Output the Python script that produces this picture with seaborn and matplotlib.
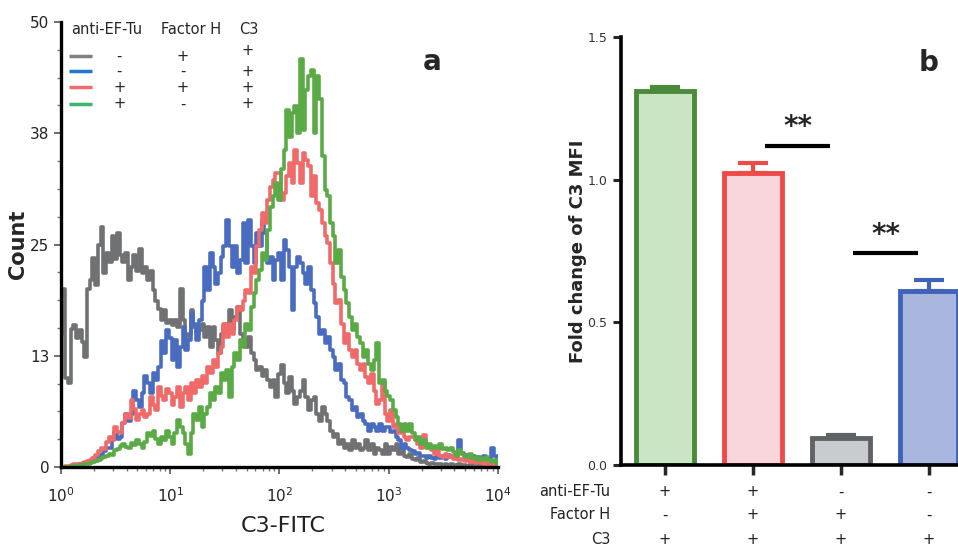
import numpy as np
import pandas as pd
import matplotlib
matplotlib.use("Agg")
import matplotlib.pyplot as plt
import seaborn as sns
from matplotlib.ticker import FixedLocator, LogLocator, NullFormatter

# --- panel a: C3-FITC histograms, counts read every 0.025 decade from 10^0 to 10^4 ---
log_fitc = np.round(np.arange(0, 4.0001, 0.025), 3)

gray_counts = [
    15, 20, 10, 9.5, 15.5, 16, 14.5, 15.4, 14, 12.4, 20, 21, 23.5, 20.5, 25, 27, 21.8, 24, 23, 26,
    23.4, 26.3, 23.8, 23, 24, 21, 22.5, 23.8, 22, 24.5, 21.8, 22.5, 21, 22, 19.9, 18.7, 17.8, 16.5, 17.6, 16.2,
    16.5, 16, 16.5, 15.7, 20, 16.5, 14.6, 15, 17.6, 15.7, 15, 15.4, 16.1, 14.6, 15.7, 13.5, 15.7, 14.3, 12.8, 15,
    15.7, 16.1, 17.6, 15.4, 16.9, 18, 15, 14.3, 13.5, 14.6, 12.8, 12, 10.9, 11.3, 10.2, 10.9, 9.8, 9, 9.8, 7.9,
    10.5, 11.5, 9.4, 8.3, 10.1, 8.6, 7.1, 7.9, 8.6, 9.8, 7.9, 6.4, 7.5, 7.9, 6, 5.2, 6.7, 6, 5.2, 4.1,
    3.4, 3.7, 2.6, 3.0, 2.2, 2.6, 1.9, 3.0, 2.2, 2.6, 1.9, 2.2, 3.0, 1.9, 2.6, 1.5, 2.2, 1.9, 1.5, 2.6,
    1.5, 2.3, 1.9, 2.6, 1.5, 2.2, 1.3, 1.1, 1.5, 0.9, 0.8, 1.0, 0.6, 0.7, 0.5, 0.4, 0.5, 0.3, 0.4, 0.3,
    0.2, 0.3, 0.2, 0.3, 0.2, 0.2, 0.3, 0.2, 0.2, 0.1, 0.2, 0.2, 0.1, 0.2, 0.1, 0.1, 0.2, 0.1, 0.1, 0.1,
    0.1]
blue_counts = [
    0, 0, 0, 0, 0, 0.1, 0.2, 0.3, 0.4, 0.5, 0.6, 0.7, 0.9, 1.1, 1.4, 1.3, 1.8, 2.2, 2.2, 3.0,
    4.0, 3.2, 3.4, 5.0, 6.0, 5.2, 6.0, 8.6, 7.5, 6.8, 8.3, 10.2, 9.5, 8.3, 10.6, 9.8, 11.3, 14.2, 12.8, 15.4,
    14.5, 12, 14.3, 11.2, 13.5, 15.7, 13.1, 14.3, 17.3, 16.1, 14.3, 16.5, 18.7, 22.5, 19.9, 24, 22.5, 20.6, 21.8, 23.6,
    24.8, 27.8, 24.8, 22.5, 24.8, 21.8, 23.3, 27.4, 22.9, 27.8, 24.8, 22.9, 26.3, 24.8, 27.8, 26.3, 22.9, 23.6, 21, 23.3,
    24, 21, 25.5, 24.4, 22.5, 17.6, 22.5, 23.6, 22.9, 21.8, 20.6, 22.5, 19.9, 18.4, 16.9, 15, 15.4, 13.9, 14.6, 13.1,
    12.4, 10.9, 11.6, 9.8, 9.4, 7.9, 7.5, 6.4, 6.7, 5.6, 6, 5.2, 4.9, 4.1, 4.9, 4.5, 4.1, 4.9, 4.1, 4.5,
    4.5, 4.0, 4.1, 3.4, 3.0, 2.2, 2.6, 2.2, 1.9, 1.8, 1.5, 1.6, 1.3, 1.2, 1.0, 1.2, 1.0, 0.9, 1.1, 1.0,
    1.2, 0.9, 1.4, 1.1, 1.3, 1.5, 3.0, 1.6, 1.2, 1.4, 1.0, 1.2, 0.9, 1.1, 0.8, 1.3, 0.9, 1.0, 2.2, 1.2,
    0.6]
red_counts = [
    0, 0, 0.1, 0.1, 0.2, 0.3, 0.3, 0.4, 0.5, 0.6, 0.7, 0.8, 1.0, 1.4, 1.8, 2.2, 2.0, 2.8, 3.4, 3.0,
    4.5, 4.0, 3.8, 5.0, 6.0, 5.5, 7.5, 6.5, 5.3, 6.0, 6.4, 5.6, 6.0, 7.9, 7.0, 6.4, 9.0, 8.0, 7.5, 8.8,
    8.3, 7, 7.9, 9, 6.8, 8.3, 9, 7.5, 9.4, 8.3, 9.8, 9, 10.2, 9.4, 11.3, 10.6, 12, 11.3, 12.8, 13.5,
    16.1, 14.6, 16.1, 15, 16.5, 18, 17.6, 18.7, 19.9, 19.5, 22.5, 21.8, 24.8, 26.6, 28.5, 27.4, 30, 31.5, 32.2, 33,
    33, 30, 30.8, 32.7, 34.2, 31.9, 35.6, 34.2, 31.9, 35.3, 34.5, 33.8, 30.4, 32.7, 29.7, 28.9, 27.4, 25.9, 25.2, 22.9,
    20.6, 18.4, 18.8, 16.1, 13.9, 15, 13.1, 12.4, 13.1, 11.6, 10.9, 11.6, 10.1, 9.4, 10.5, 8.6, 7.1, 7.5, 9.4, 6,
    5.2, 6.4, 4.5, 4.9, 3.8, 4.1, 3.4, 3.0, 3.4, 3.4, 3.0, 2.6, 2.2, 3.6, 2.6, 2.2, 1.9, 1.5, 1.9, 1.3,
    1.1, 1.5, 1.1, 1.3, 0.9, 1.1, 0.8, 0.9, 0.7, 0.8, 0.6, 0.7, 0.5, 0.6, 0.5, 0.4, 0.5, 0.4, 0.3, 0.4,
    0.3]
green_counts = [
    0, 0, 0, 0, 0.1, 0.1, 0.1, 0.2, 0.2, 0.3, 0.4, 0.5, 0.6, 0.7, 0.8, 1.0, 1.1, 1.3, 1.5, 1.4,
    1.9, 2.0, 2.4, 2.6, 2.3, 2.2, 2.7, 2.5, 3.0, 2.6, 2.2, 2.8, 3.8, 3.5, 4.1, 3.2, 2.6, 3.4, 3.0, 4.1,
    3.4, 2.6, 3.8, 5.3, 4.5, 3.8, 2.6, 1.5, 3.8, 6, 5.3, 6.8, 4.5, 6, 6.8, 8.3, 7.5, 9, 8.3, 10.6,
    9.8, 10.9, 7.9, 11.3, 12.8, 12, 14.3, 13.5, 16.1, 15.4, 18, 19.5, 21, 22.1, 24, 23.3, 26.6, 29.2, 30.4, 31.9,
    30, 33.5, 35.6, 40.1, 37.1, 39.8, 40.5, 37.5, 45.8, 37.9, 42.4, 43.9, 44.6, 37.5, 43.9, 41.3, 34.9, 31.1, 30.4, 27.4,
    25.9, 22.9, 24.4, 21.4, 19.9, 18.4, 16.9, 15.4, 16.1, 14.6, 13.9, 12.4, 13.1, 11.6, 10.9, 12, 13.9, 9.4, 9.8, 8.6,
    8, 7.5, 6.4, 5.6, 4.9, 4.1, 4.9, 4.1, 4.9, 3.8, 3.0, 3.4, 2.6, 3.0, 2.2, 2.6, 2.2, 2.4, 2.2, 2.6,
    2.0, 2.2, 1.9, 2.2, 1.7, 1.3, 1.9, 1.5, 1.3, 1.1, 1.5, 1.0, 1.1, 0.8, 1.0, 0.8, 1.1, 0.8, 0.6, 0.8,
    0.4]

series_names = ["gray", "blue", "red", "green"]
line_colors = {"gray": "#707172", "blue": "#4a6cc0", "red": "#f06a6a", "green": "#5aaa46"}
legend_colors = ["#808080", "#1f78cf", "#ef6b6b", "#3db46e"]
legend_anti = ["-", "-", "+", "+"]
legend_fh = ["+", "-", "+", "-"]
legend_c3 = ["+", "+", "+", "+"]

# --- panel b: fold change of C3 MFI ---
bar_groups = ["g1", "g2", "g3", "g4"]
fold_change = [1.31, 1.025, 0.095, 0.61]
fold_err = [0.015, 0.035, 0.01, 0.04]
bar_fill = ["#c9e5c3", "#f8d6dc", "#c9cccf", "#a9b6de"]
bar_edge = ["#4a8a3a", "#ee4b48", "#5f6366", "#3f63b8"]
bar_anti = ["+", "+", "-", "-"]
bar_fh = ["-", "+", "+", "-"]
bar_c3 = ["+", "+", "+", "+"]
sig_pairs = [(1, 2, 1.12), (2, 3, 0.743)]

sns.set_theme(style="ticks")
plt.rcParams["font.family"] = ["DejaVu Sans"]

fig = plt.figure(figsize=(9.58, 5.47), dpi=100)

# ---------- panel a ----------
ax = fig.add_axes([0.0637, 0.146, 0.456, 0.814])
df = pd.DataFrame({
    "fitc": np.tile(10 ** log_fitc, 4),
    "count": gray_counts + blue_counts + red_counts + green_counts,
    "sample": np.repeat(series_names, len(log_fitc)),
})
sns.lineplot(data=df, x="fitc", y="count", hue="sample", hue_order=series_names,
             palette=line_colors, linewidth=2.6, drawstyle="steps-mid", legend=False, ax=ax)
ax.set_xscale("log")
ax.set_xlim(1, 1e4)
ax.set_ylim(0, 50)
ax.xaxis.set_major_locator(LogLocator(base=10, numticks=10))
ax.xaxis.set_minor_locator(LogLocator(base=10, subs=np.arange(2, 10), numticks=10))
ax.xaxis.set_minor_formatter(NullFormatter())
ax.yaxis.set_major_locator(FixedLocator([0, 12.5, 25, 37.5, 50]))
ax.set_yticklabels(["0", "13", "25", "38", "50"])
ax.yaxis.set_minor_locator(FixedLocator(np.arange(0, 50.1, 3.125)))
ax.tick_params(axis="both", which="major", labelsize=11, labelcolor="#222222", length=5, width=1.2, color="#555555")
ax.tick_params(axis="x", which="major", pad=9)
ax.tick_params(axis="both", which="minor", length=3, width=1, color="#777777")
for s in ["top", "right"]:
    ax.spines[s].set_visible(False)
for s in ["left", "bottom"]:
    ax.spines[s].set_linewidth(2.4)
    ax.spines[s].set_color("black")
ax.set_xlabel("C3-FITC", fontsize=16, color="#222222")
ax.xaxis.set_label_coords(0.508, -0.11)
ax.set_ylabel("Count", fontsize=15, fontweight="bold")
ax.yaxis.set_label_coords(-0.075, 0.5)
ax.text(0.85, 0.91, "a", transform=ax.transAxes, fontsize=20, fontweight="bold", ha="center", va="center")

# legend table
ax.text(0.023, 0.982, "anti-EF-Tu", transform=ax.transAxes, fontsize=10.5, va="center")
ax.text(0.228, 0.982, "Factor H", transform=ax.transAxes, fontsize=10.5, va="center")
ax.text(0.408, 0.982, "C3", transform=ax.transAxes, fontsize=10.5, va="center")
row_y = [0.923, 0.889, 0.853, 0.816]
for i in range(4):
    ax.plot([0.018, 0.071], [row_y[i], row_y[i]], transform=ax.transAxes, color=legend_colors[i], lw=2.5,
            solid_capstyle="butt")
    ax.text(0.133, row_y[i], legend_anti[i], transform=ax.transAxes, fontsize=10.5, ha="center", va="center")
    ax.text(0.279, row_y[i], legend_fh[i], transform=ax.transAxes, fontsize=10.5, ha="center", va="center")
    ax.text(0.426, row_y[i] + (0.012 if i == 0 else 0), legend_c3[i], transform=ax.transAxes, fontsize=10.5,
            ha="center", va="center")

# ---------- panel b ----------
bx = fig.add_axes([0.648, 0.150, 0.352, 0.782])
bdf = pd.DataFrame({"group": bar_groups, "fold": fold_change})
sns.barplot(data=bdf, x="group", y="fold", hue="group", palette=bar_fill, width=0.66, saturation=1,
            legend=False, ax=bx, errorbar=None)
for i, patch in enumerate(bx.patches):
    patch.set_edgecolor(bar_edge[i])
    patch.set_linewidth(3.5)
    patch.set_joinstyle("miter")
for i in range(4):
    bx.errorbar(i, fold_change[i], yerr=[[0], [fold_err[i]]], fmt="none", ecolor=bar_edge[i],
                elinewidth=3, capsize=11, capthick=3)
for a, b, y in sig_pairs:
    bx.plot([a + 0.14, b - 0.125], [y, y], color="black", lw=3, solid_capstyle="butt")
    bx.text((a + b) / 2 + 0.01, y + 0.015, "**", fontsize=20, fontweight="bold", ha="center", va="bottom")

bx.set_xlim(-0.5, 3.33)
bx.set_ylim(0, 1.5)
bx.set_yticks([0, 0.5, 1.0, 1.5])
bx.set_yticklabels(["0.0", "0.5", "1.0", "1.5"])
bx.set_xticks(range(4))
bx.set_xticklabels([""] * 4)
bx.tick_params(axis="y", labelsize=9, labelcolor="#333333", length=6, width=2.2)
bx.tick_params(axis="x", length=7, width=2.5)
for s in ["top", "right"]:
    bx.spines[s].set_visible(False)
for s in ["left", "bottom"]:
    bx.spines[s].set_linewidth(2.6)
    bx.spines[s].set_color("black")
bx.set_xlabel("")
bx.set_ylabel("Fold change of C3 MFI", fontsize=13, fontweight="bold")
bx.yaxis.set_label_coords(-0.10, 0.5)
bx.text(3.0, 1.41, "b", fontsize=20, fontweight="bold", ha="center", va="center")

table_rows = [("anti-EF-Tu", bar_anti, -0.063), ("Factor H", bar_fh, -0.117), ("C3", bar_c3, -0.175)]
for label, signs, yy in table_rows:
    bx.text(-0.62, yy, label, transform=bx.get_xaxis_transform(), fontsize=10.5, ha="right", va="center",
            color="#222222")
    for i, sgn in enumerate(signs):
        bx.text(i, yy, sgn, transform=bx.get_xaxis_transform(), fontsize=10.5, ha="center", va="center",
                color="#222222")

fig.savefig("out.png", dpi=100)
